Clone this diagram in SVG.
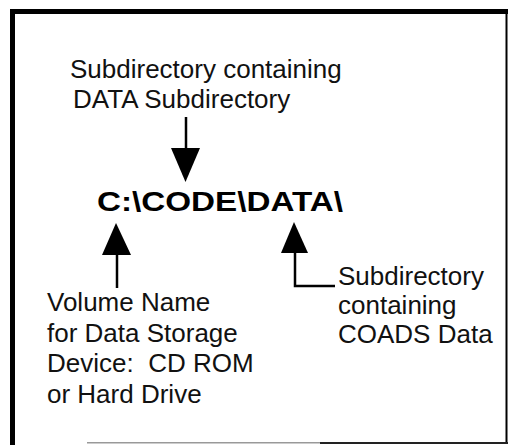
<svg xmlns="http://www.w3.org/2000/svg" width="510" height="445" viewBox="0 0 510 445">
<style>
.t{font-family:"Liberation Sans",Arial,sans-serif;font-size:26px;fill:#111}
.b{font-family:"Liberation Sans",Arial,sans-serif;font-size:27px;font-weight:bold;fill:#000}
.ln{stroke:#000;stroke-width:2.5;fill:none}
.hd{fill:#000;stroke:none}
</style>
<rect width="510" height="445" fill="#fff"/>
<g id="frame">
<rect x="10" y="9" width="5" height="436" fill="#000"/>
<rect x="10" y="9" width="498" height="5" fill="#000"/>
<rect x="505.5" y="9" width="2" height="435" fill="#000"/>
<rect x="87" y="442" width="233" height="1.5" fill="#999"/>
<rect x="320" y="442" width="188" height="2" fill="#222"/>
</g>
<g id="top-label">
<text class="t" x="70" y="78">Subdirectory containing</text>
<text class="t" x="73" y="108">DATA Subdirectory</text>
</g>
<g id="path">
<text class="b" x="97" y="211" textLength="246" lengthAdjust="spacingAndGlyphs">C:\CODE\DATA\</text>
</g>
<g id="left-label">
<text class="t" x="47" y="311">Volume Name</text>
<text class="t" x="47" y="342">for Data Storage</text>
<text class="t" x="47" y="372" xml:space="preserve">Device:  CD ROM</text>
<text class="t" x="47" y="403">or Hard Drive</text>
</g>
<g id="right-label">
<text class="t" x="338" y="285">Subdirectory</text>
<text class="t" x="338" y="314">containing</text>
<text class="t" x="338" y="343">COADS Data</text>
</g>
<g id="connectors">
<line class="ln" x1="186" y1="117" x2="186" y2="150"/>
<polygon class="hd" points="171,148 200,148 185.5,182"/>
<line class="ln" x1="117" y1="253" x2="117" y2="288"/>
<polygon class="hd" points="102,255 131,255 116,223"/>
<polyline class="ln" points="295,252 295,286 335,286"/>
<polygon class="hd" points="281,253 308,253 294,222"/>
</g>
</svg>
